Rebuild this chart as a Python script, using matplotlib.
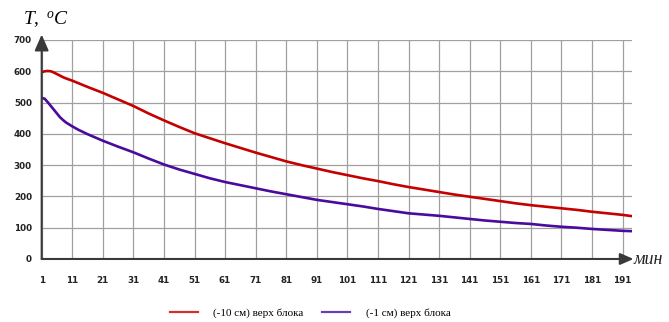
import matplotlib
matplotlib.use("Agg")
import matplotlib.pyplot as plt
from matplotlib.lines import Line2D

# Time points (minutes) and block temperatures
minutes = [1, 2, 3, 4, 5, 6, 7, 8, 9, 11, 13, 16, 21, 26, 31, 36, 41, 46, 51, 56,
           61, 66, 71, 76, 81, 86, 91, 96, 101, 106, 111, 116, 121, 126, 131, 136,
           141, 146, 151, 156, 161, 166, 171, 176, 181, 186, 191, 194]

temp_10cm = [597, 600, 601, 600, 596, 591, 586, 581, 577, 570, 562, 550, 531, 510,
             489, 465, 443, 422, 402, 386, 370, 355, 340, 326, 312, 300, 289, 278,
             268, 258, 249, 239, 230, 222, 214, 206, 199, 192, 185, 178, 172, 167,
             162, 157, 151, 146, 141, 137]

temp_1cm = [515, 512, 501, 489, 477, 465, 453, 444, 436, 424, 413, 399, 378, 359,
            341, 321, 302, 286, 272, 258, 246, 236, 226, 216, 207, 198, 189, 182,
            175, 168, 160, 153, 146, 142, 138, 133, 128, 123, 119, 115, 112, 107,
            103, 100, 96, 93, 90, 89]

x_ticks = list(range(1, 192, 10))
y_ticks = list(range(0, 701, 100))
series_labels = ["(-10 см) верх блока", "(-1 см) верх блока"]

RED = "#C40000"
PURPLE = "#4A0A9C"
AXIS = "#3a3a3a"

plt.rcParams["mathtext.fontset"] = "custom"
plt.rcParams["mathtext.it"] = "Liberation Serif:italic"
plt.rcParams["mathtext.rm"] = "Liberation Serif"

fig = plt.figure(figsize=(6.69, 3.22), dpi=100)
ax = fig.add_axes([0.0623, 0.1957, 0.882, 0.6801])

ax.plot(minutes, temp_10cm, color=RED, lw=1.9, solid_capstyle="round")
ax.plot(minutes, temp_1cm, color=PURPLE, lw=1.9, solid_capstyle="round")

ax.set_xlim(1, 194)
ax.set_ylim(0, 700)
ax.set_xticks(x_ticks)
ax.set_yticks(y_ticks)
ax.grid(True, color="#a0a0a0", lw=0.9)
ax.set_axisbelow(True)
for s in ax.spines.values():
    s.set_visible(False)

ax.tick_params(length=0, labelsize=6.3, colors="#222222")
ax.tick_params(axis="x", pad=12)
ax.tick_params(axis="y", pad=7)
for lab in ax.get_xticklabels() + ax.get_yticklabels():
    lab.set_fontweight("bold")

# Axis arrows
arrow_kw = dict(arrowstyle="-|>,head_length=0.8,head_width=0.35", color=AXIS,
                lw=1.5, shrinkA=0, shrinkB=0, mutation_scale=10)
ax.annotate("", xy=(0, 1.025), xytext=(0, 0), xycoords="axes fraction",
            textcoords="axes fraction",
            arrowprops=dict(arrow_kw, mutation_scale=12), annotation_clip=False)
ax.annotate("", xy=(1.003, 0), xytext=(0, 0), xycoords="axes fraction",
            textcoords="axes fraction", arrowprops=arrow_kw, annotation_clip=False)

# Axis titles
fig.text(23 / 669, 1 - 25 / 322, r"$T,\ ^{o}C$", fontsize=14, va="baseline", ha="left")
fig.text(634 / 669, 1 - 264 / 322, "мин", fontsize=13, va="baseline", ha="left",
         family="Liberation Serif", style="italic", color="#222222")

handles = [Line2D([], [], color="#d03030", lw=1.6),
           Line2D([], [], color="#6a40b0", lw=1.6)]
fig.legend(handles, series_labels, loc="center", bbox_to_anchor=(310 / 669, 1 - 313 / 322),
           ncol=2, frameon=False, prop={"family": "Liberation Serif", "size": 8},
           handlelength=2.5, handletextpad=1.4, columnspacing=1.7)

fig.savefig("out.png", dpi=100)
